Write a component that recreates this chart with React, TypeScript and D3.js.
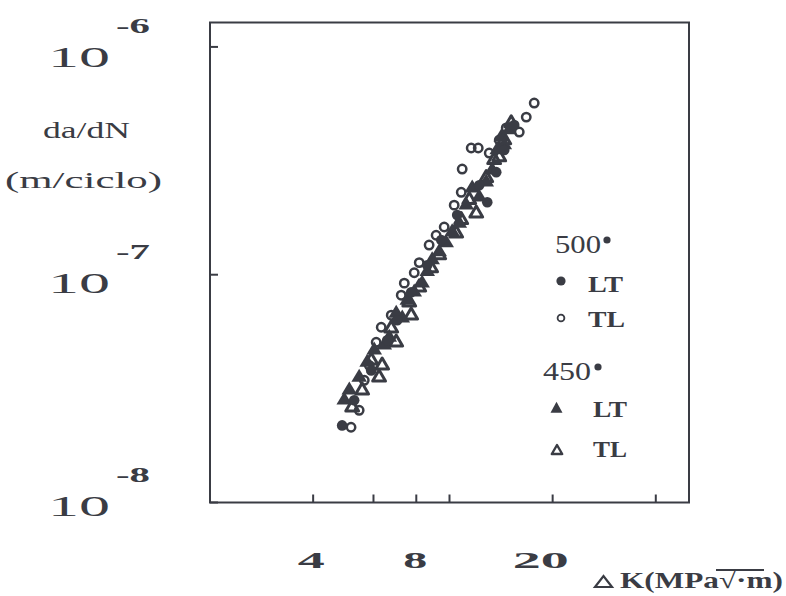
import React from "react";
import * as d3 from "d3";

// ---- data (ΔK in MPa√m, da/dN in m/ciclo) ----
const tl500: [number, number][] = [
  [5.16, 2.14e-8], [5.45, 2.54e-8], [5.64, 3.44e-8], [5.83, 4.0e-8], [6.11, 5.05e-8],
  [6.32, 5.88e-8], [6.76, 6.64e-8], [7.23, 8.13e-8], [7.38, 9.18e-8], [7.89, 1.02e-7],
  [8.16, 1.13e-7], [8.72, 1.35e-7], [9.14, 1.49e-7], [9.65, 1.62e-7], [10.32, 2.02e-7],
  [10.82, 2.3e-7], [10.89, 2.91e-7], [11.57, 3.6e-7], [12.13, 3.6e-7], [13.06, 3.42e-7],
  [13.97, 3.9e-7], [14.64, 4.41e-7], [15.98, 4.23e-7], [16.75, 4.92e-7], [17.67, 5.67e-7],
];
const lt500: [number, number][] = [
  [4.86, 2.18e-8], [5.27, 2.81e-8], [5.91, 3.8e-8], [6.58, 5.15e-8], [7.04, 6.31e-8],
  [7.73, 8.38e-8], [8.61, 1.1e-7], [9.46, 1.42e-7], [10.53, 1.83e-7], [12.21, 2.47e-7],
  [12.89, 2.08e-7], [13.69, 2.82e-7], [14.45, 3.53e-7], [15.45, 4.54e-7],
];
const lt450: [number, number][] = [
  [4.93, 2.81e-8], [5.1, 3.11e-8], [5.45, 3.54e-8], [5.75, 4.12e-8], [6.03, 4.66e-8],
  [6.45, 4.9e-8], [6.67, 5.31e-8], [7.28, 6.44e-8], [6.99, 6.77e-8], [7.53, 7.72e-8],
  [7.89, 8.38e-8], [8.32, 9.18e-8], [8.61, 1.03e-7], [8.9, 1.16e-7], [9.33, 1.26e-7],
  [9.78, 1.38e-7], [10.18, 1.54e-7], [10.68, 1.68e-7], [11.19, 2.02e-7], [11.65, 2.4e-7],
  [12.21, 2.19e-7], [12.8, 2.55e-7], [13.32, 2.88e-7], [13.78, 3.53e-7], [14.16, 4.02e-7],
  [14.45, 3.71e-7], [14.94, 4.32e-7],
];
const tl450: [number, number][] = [
  [5.2, 2.62e-8], [5.56, 3.11e-8], [5.91, 4.21e-8], [6.23, 3.54e-8], [6.36, 4.0e-8],
  [6.76, 5.82e-8], [6.99, 5.05e-8], [7.73, 6.64e-8], [7.63, 7.57e-8], [8.16, 8.81e-8],
  [8.84, 1.07e-7], [9.33, 1.22e-7], [10.46, 1.52e-7], [10.82, 1.74e-7], [11.42, 2.13e-7],
  [11.97, 1.86e-7], [12.8, 2.66e-7], [13.5, 3.19e-7], [13.97, 3.28e-7], [14.45, 3.9e-7],
  [15.14, 4.63e-7],
];

const xTickValues = [4, 6, 8, 10, 20, 40];
const xLabelValues = [4, 8, 20];
const xLabelTexts = ["4", "8", "20"];
const yTickValues = [1e-6, 1e-7, 1e-8];
const yTickExponents = ["-6", "-7", "-8"];
const yTitleLines = ["da/dN", "(m/ciclo)"];
const xTitle = "K(MPa√·m)";
const legendGroups = ["500", "450"];
const legendLabels = ["LT", "TL", "LT", "TL"];

// ---- layout / style ----
const W = 786;
const H = 596;
const ink = "#3a3c44";
const font = "'Liberation Serif', 'DejaVu Serif', serif";

const x = d3.scaleLog().domain([2, 50]).range([210, 689]);
const y = d3.scaleLog().domain([1e-8, 1.28e-6]).range([502.5, 22.5]);

const triPath = (cx: number, cy: number, hw: number, h: number) =>
  `M${cx},${cy - (2 * h) / 3}L${cx + hw},${cy + h / 3}L${cx - hw},${cy + h / 3}Z`;

function Marker({ kind, cx, cy }: { kind: string; cx: number; cy: number }) {
  if (kind === "fc") return <circle cx={cx} cy={cy} r={5.3} fill={ink} />;
  if (kind === "oc")
    return <circle cx={cx} cy={cy} r={4.2} fill="none" stroke={ink} strokeWidth={2.5} />;
  if (kind === "ft") return <path d={triPath(cx, cy, 7.8, 13)} fill={ink} />;
  return (
    <path
      d={triPath(cx, cy, 6.4, 11)}
      fill="none"
      stroke={ink}
      strokeWidth={3}
      strokeLinejoin="round"
    />
  );
}

export default function App() {
  const [x0, x1] = x.range();
  const [yb, yt] = y.range();
  const yLabelDy = [20, 18, 13];
  const xLabelDx = [-2, -1, -12];
  const xLabelLen = [27, 24, 56];

  const series: { data: [number, number][]; kind: string }[] = [
    { data: tl450, kind: "ot" },
    { data: tl500, kind: "oc" },
    { data: lt450, kind: "ft" },
    { data: lt500, kind: "fc" },
  ];

  return (
    <svg
      width={W}
      height={H}
      viewBox={`0 0 ${W} ${H}`}
      style={{ position: "absolute", left: 0, top: 0, background: "#fff" }}
    >
      <rect x={0} y={0} width={W} height={H} fill="#fff" />

      {/* frame */}
      <rect
        x={x0}
        y={yt}
        width={x1 - x0}
        height={yb - yt}
        fill="none"
        stroke={ink}
        strokeWidth={2}
      />

      {/* y ticks */}
      {yTickValues.map((v, i) => (
        <line key={"yt" + i} x1={x0} x2={x0 + 8} y1={y(v)} y2={y(v)} stroke={ink} strokeWidth={2} />
      ))}
      {/* x ticks */}
      {xTickValues.map((v, i) => (
        <line key={"xt" + i} x1={x(v)} x2={x(v)} y1={yb} y2={yb - 8} stroke={ink} strokeWidth={2} />
      ))}

      {/* y tick labels 10^n */}
      {yTickValues.map((v, i) => {
        const base = y(v) + yLabelDy[i];
        return (
          <g key={"yl" + i} fill={ink} fontFamily={font}>
            <text x={48} y={base} fontSize={29} textLength={62} lengthAdjust="spacingAndGlyphs">
              10
            </text>
            <text
              x={116}
              y={base - 34}
              fontSize={22}
              fontWeight="bold"
              textLength={34}
              lengthAdjust="spacingAndGlyphs"
            >
              {yTickExponents[i]}
            </text>
          </g>
        );
      })}

      {/* y title */}
      <text x={43} y={138} fontFamily={font} fontSize={23} fill={ink} textLength={87} lengthAdjust="spacingAndGlyphs">
        {yTitleLines[0]}
      </text>
      <text x={5} y={188} fontFamily={font} fontSize={23} fill={ink} textLength={157} lengthAdjust="spacingAndGlyphs">
        {yTitleLines[1]}
      </text>

      {/* x tick labels */}
      {xLabelValues.map((v, i) => (
        <text
          key={"xl" + i}
          x={x(v) + xLabelDx[i]}
          y={568}
          textAnchor="middle"
          fontFamily={font}
          fontWeight="bold"
          fontSize={23}
          fill={ink}
          textLength={xLabelLen[i]}
          lengthAdjust="spacingAndGlyphs"
        >
          {xLabelTexts[i]}
        </text>
      ))}

      {/* x title */}
      <path d="M595,587L603.5,576L612,587Z" fill="none" stroke={ink} strokeWidth={2.2} />
      <text x={620} y={588} fontFamily={font} fontWeight="bold" fontSize={23} fill={ink} textLength={163} lengthAdjust="spacingAndGlyphs">
        {xTitle}
      </text>
      <line x1={716} x2={764} y1={570} y2={570} stroke={ink} strokeWidth={2} />

      {/* data */}
      {series.map((s, si) => (
        <g key={"s" + si}>
          {s.data.map((d, i) => (
            <Marker key={i} kind={s.kind} cx={x(d[0])} cy={y(d[1])} />
          ))}
        </g>
      ))}

      {/* legend */}
      <g fontFamily={font} fill={ink}>
        <text x={555} y={253} fontSize={25} textLength={46} lengthAdjust="spacingAndGlyphs">
          {legendGroups[0]}
        </text>
        <circle cx={607} cy={240} r={3.6} fill={ink} />
        <circle cx={561} cy={281} r={4.6} fill={ink} />
        <text x={588} y={292} fontSize={24} fontWeight="bold" textLength={35} lengthAdjust="spacingAndGlyphs">
          {legendLabels[0]}
        </text>
        <circle cx={561} cy={318} r={3.4} fill="none" stroke={ink} strokeWidth={1.8} />
        <text x={588} y={327} fontSize={24} fontWeight="bold" textLength={37} lengthAdjust="spacingAndGlyphs">
          {legendLabels[1]}
        </text>

        <text x={543} y={380} fontSize={25} textLength={48} lengthAdjust="spacingAndGlyphs">
          {legendGroups[1]}
        </text>
        <circle cx={598} cy={367} r={3.6} fill={ink} />
        <path d={triPath(556.5, 409, 6, 11)} fill={ink} />
        <text x={593} y={417} fontSize={24} fontWeight="bold" textLength={34} lengthAdjust="spacingAndGlyphs">
          {legendLabels[2]}
        </text>
        <path d={triPath(557, 451, 5.2, 9)} fill="none" stroke={ink} strokeWidth={2.4} strokeLinejoin="round" />
        <text x={593} y={457} fontSize={24} fontWeight="bold" textLength={34} lengthAdjust="spacingAndGlyphs">
          {legendLabels[3]}
        </text>
      </g>
    </svg>
  );
}
